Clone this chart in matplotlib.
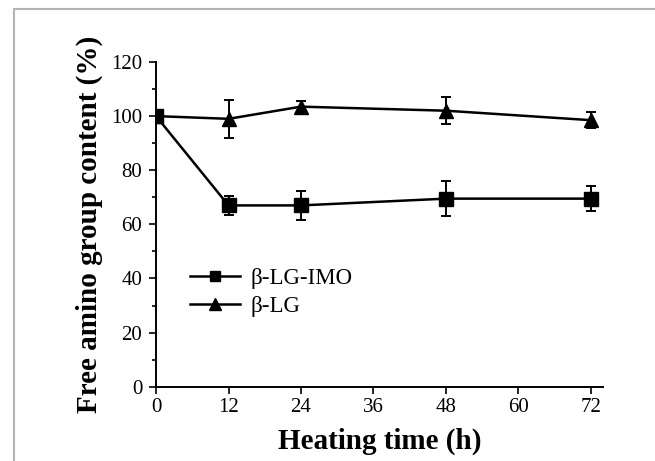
import matplotlib
matplotlib.use("Agg")
import matplotlib.pyplot as plt
from matplotlib.lines import Line2D
from matplotlib.patches import Rectangle
from matplotlib.ticker import MultipleLocator

# data
hours = [0, 12, 24, 48, 72]
imo_vals = [100, 67, 67, 69.5, 69.5]
imo_err = [0, 3.5, 5.5, 6.5, 4.5]
lg_vals = [100, 99, 103.5, 102, 98.5]
lg_err = [0, 7, 2, 5, 3]
xticks = [0, 12, 24, 36, 48, 60, 72]
yticks = [0, 20, 40, 60, 80, 100, 120]
names = ['β-LG-IMO', 'β-LG']

plt.rcParams['font.family'] = ['Liberation Serif', 'DejaVu Serif']

fig = plt.figure(figsize=(6.55, 4.61), dpi=100)
ax = fig.add_axes([0.2382, 0.1612, 0.6824, 0.7043])

# grey frame around the picture (open at right and bottom)
fig.add_artist(Rectangle((14/655, -0.1), 1.2, 1 - 9/461 + 0.1, transform=fig.transFigure,
                         fill=False, edgecolor='#b4b4b4', linewidth=1.5))

ax.errorbar(hours, imo_vals, yerr=imo_err, color='black', marker='s', markersize=9.5,
            linewidth=1.8, elinewidth=1.4, capsize=3.5, capthick=1.4, zorder=4)
ax.errorbar(hours, lg_vals, yerr=lg_err, color='black', marker='^', markersize=10.5,
            linewidth=1.8, elinewidth=1.4, capsize=3.5, capthick=1.4, zorder=3)

ax.set_xlim(0, 74)
ax.set_ylim(0, 120)
ax.set_xticks(xticks)
ax.set_yticks(yticks)
ax.yaxis.set_minor_locator(MultipleLocator(10))
for s in ['top', 'right']:
    ax.spines[s].set_visible(False)
for s in ['left', 'bottom']:
    ax.spines[s].set_linewidth(1.4)
    ax.spines[s].set_clip_on(False)
ax.tick_params(which='major', direction='out', length=5, width=1.2, labelsize=15, pad=3)
ax.tick_params(axis='y', which='major', pad=5)
ax.tick_params(which='minor', direction='out', length=3, width=1.2)

ax.set_xlabel('Heating time (h)', fontsize=21, fontweight='bold', labelpad=8)
ax.set_ylabel('Free amino group content (%)', fontsize=21, fontweight='bold', labelpad=6)

handles = [Line2D([], [], color='black', marker='s', markersize=7, linewidth=1.8),
           Line2D([], [], color='black', marker='^', markersize=8.5, linewidth=1.8)]
ax.legend(handles, names, loc='center left', bbox_to_anchor=(0.076, 0.29), frameon=False,
          fontsize=16.5, borderpad=0, borderaxespad=0, handlelength=2.2,
          handletextpad=0.45, labelspacing=0.3, numpoints=1)

fig.savefig('out.png', dpi=100)
